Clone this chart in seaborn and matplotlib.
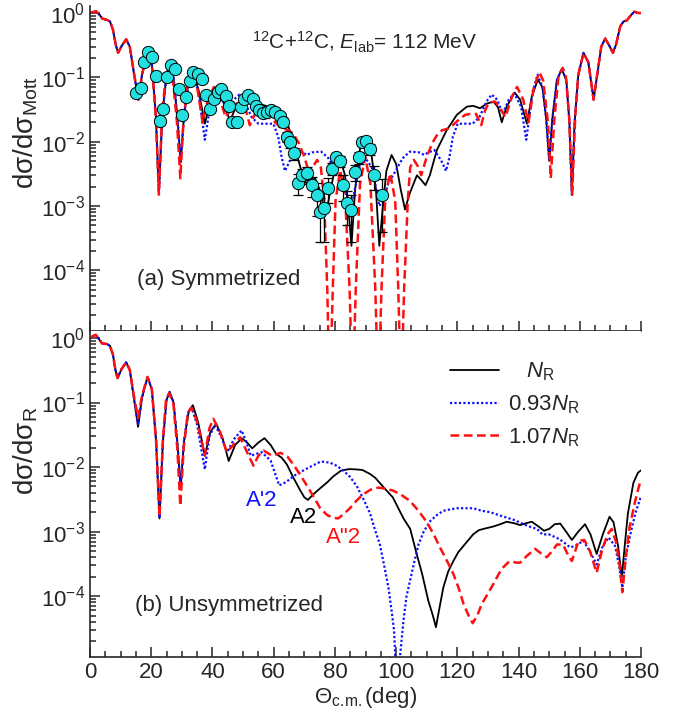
import numpy as np
import pandas as pd
import matplotlib
matplotlib.use('Agg')
import matplotlib.pyplot as plt
import seaborn as sns

# ---------------- data ----------------
# (a) symmetrized, N_R (black)
a_nr_th = [0.3, 1.0, 2.0, 3.0, 4.0, 5.5, 6.5, 7.5, 8.4, 9.2, 10.2, 11.8, 13.0, 14.3, 15.8, 17.0, 18.8, 20.2,
           21.5, 22.5, 23.6, 25.0, 26.0, 27.3, 28.6, 29.6, 30.7, 32.3, 33.8, 35.4, 37.5, 39.3, 41.5, 43.3,
           45.7, 47.5, 49.5, 51.2, 53.5, 56.6, 59.9, 62.1, 64.3, 66.4, 68.1, 69.7, 70.8, 72.5, 73.5, 75.0,
           76.5, 77.3, 78.5, 80.0, 81.7, 83.3, 84.5, 85.4, 86.6, 88.3, 89.9, 91.6, 93.4, 94.5, 95.5, 96.8,
           98.5, 100.0, 101.5, 102.9, 104.5, 106.8, 108.3, 109.6, 111.0, 113.3, 116.5, 119.8, 123.1, 125.2,
           127.4, 129.6, 131.8, 133.3, 134.5, 136.1, 138.7, 140.5, 142.7, 144.3, 146.3, 147.8, 149.0, 150.0,
           151.0, 152.5, 154.1, 155.6, 156.6, 157.4, 158.3, 159.5, 161.2, 162.8, 164.5, 165.8, 167.0, 168.3,
           169.8, 170.8, 171.8, 173.2, 174.3, 175.4, 176.5, 177.8, 179.0, 180.0]
a_nr_v = [1.0, 1.04, 1.06, 0.95, 0.82, 0.78, 0.74, 0.55, 0.32, 0.24, 0.30, 0.39, 0.30, 0.12, 0.045, 0.11, 0.25, 0.16,
          0.025, 0.0016, 0.025, 0.11, 0.145, 0.10, 0.022, 0.0048, 0.025, 0.09, 0.115, 0.065, 0.019, 0.042, 0.063, 0.045,
          0.021, 0.033, 0.044, 0.046, 0.041, 0.037, 0.033, 0.027, 0.020, 0.0105, 0.0051, 0.0027, 0.0022, 0.0028, 0.0027, 0.0018,
          0.0009, 0.00085, 0.0017, 0.0038, 0.0054, 0.0030, 0.0008, 0.00024, 0.0018, 0.0085, 0.0112, 0.0085, 0.0018, 0.00024, 0.0008, 0.0035,
          0.0062, 0.0045, 0.0018, 0.00088, 0.0016, 0.0030, 0.0025, 0.0021, 0.0030, 0.0074, 0.015, 0.026, 0.035, 0.036,
          0.033, 0.039, 0.042, 0.034, 0.020, 0.035, 0.058, 0.045, 0.019, 0.050, 0.092, 0.07, 0.023, 0.0050,
          0.022, 0.09, 0.135, 0.09, 0.02, 0.0015, 0.02, 0.11, 0.24, 0.17, 0.045, 0.12, 0.30, 0.40,
          0.30, 0.24, 0.32, 0.62, 0.74, 0.77, 0.90, 1.05, 1.0, 1.0]

# (a) symmetrized, 0.93 N_R (blue)
a_lo_th = [0.3, 1.0, 2.0, 3.0, 4.0, 5.5, 6.5, 7.5, 8.4, 9.2, 10.2, 11.8, 13.0, 14.3, 15.8, 17.0, 18.8, 20.2,
           21.5, 22.5, 23.6, 25.0, 26.0, 27.3, 28.6, 29.6, 30.7, 32.3, 33.6, 35.4, 37.5, 39.2, 41.4, 43.2,
           45.2, 47.0, 48.8, 50.5, 52.8, 55.0, 57.7, 59.9, 61.5, 62.6, 63.7, 65.3, 67.5, 69.5, 70.8, 72.5,
           75.5, 77.9, 79.5, 81.0, 82.5, 84.0, 85.5, 86.5, 88.0, 90.0, 92.0, 93.5, 94.5, 96.0, 97.5, 99.0,
           100.5, 102.1, 104.5, 107.5, 109.2, 110.5, 112.5, 114.7, 116.3, 117.4, 118.5, 120.1, 122.3, 125.0,
           127.2, 129.5, 131.2, 133.0, 134.8, 136.8, 138.6, 140.8, 142.5, 144.6, 146.2, 147.8, 149.0, 150.0,
           151.0, 152.5, 154.1, 155.6, 156.6, 157.4, 158.3, 159.5, 161.2, 162.8, 164.5, 165.8, 167.0, 168.3,
           169.8, 170.8, 171.8, 173.2, 174.3, 175.4, 176.5, 177.8, 179.0, 180.0]
a_lo_v = [1.0, 1.04, 1.06, 0.95, 0.82, 0.78, 0.74, 0.55, 0.32, 0.24, 0.30, 0.39, 0.30, 0.12, 0.045, 0.11, 0.25, 0.16,
          0.025, 0.0016, 0.025, 0.11, 0.145, 0.10, 0.022, 0.0048, 0.025, 0.09, 0.11, 0.06, 0.0107, 0.035, 0.056, 0.045,
          0.027, 0.045, 0.054, 0.042, 0.024, 0.019, 0.019, 0.019, 0.0118, 0.0057, 0.0035, 0.0051, 0.0074, 0.0068, 0.0062, 0.0068,
          0.0070, 0.0055, 0.0040, 0.0030, 0.0023, 0.0013, 0.0010, 0.0018, 0.0040, 0.0055, 0.0040, 0.0018, 0.0010, 0.0013, 0.0023, 0.0030,
          0.0040, 0.0055, 0.0070, 0.0068, 0.0062, 0.0068, 0.0074, 0.0051, 0.0035, 0.0057, 0.0118, 0.019, 0.019, 0.019,
          0.024, 0.042, 0.054, 0.045, 0.027, 0.045, 0.056, 0.035, 0.0107, 0.06, 0.11, 0.07, 0.023, 0.0050,
          0.022, 0.09, 0.135, 0.09, 0.02, 0.0015, 0.02, 0.11, 0.24, 0.17, 0.045, 0.12, 0.30, 0.40,
          0.30, 0.24, 0.32, 0.62, 0.74, 0.77, 0.90, 1.05, 1.0, 1.0]

# (a) symmetrized, 1.07 N_R (red)
a_hi_th = [0.3, 1.0, 2.0, 3.0, 4.0, 5.5, 6.5, 7.5, 8.4, 9.2, 10.2, 11.8, 13.0, 14.3, 15.8, 17.0, 18.8, 20.2,
           21.5, 22.5, 23.5, 24.8, 25.6, 27.0, 28.4, 29.5, 30.5, 32.0, 33.2, 35.0, 36.8, 38.5, 40.5, 42.2,
           44.3, 46.0, 47.7, 49.8, 51.0, 52.2, 53.9, 55.8, 57.5, 59.5, 61.5, 63.0, 65.0, 66.5, 68.2, 70.0,
           71.8, 73.0, 74.2, 75.4, 76.5, 77.5, 78.3, 79.3, 80.2, 81.7, 83.3, 84.8, 85.8, 86.8, 88.2, 89.9,
           91.6, 93.2, 94.2, 95.2, 96.5, 98.1, 99.7, 100.7, 101.6, 102.6, 103.8, 104.6, 105.8, 107.0, 108.2,
           110.0, 111.8, 113.5, 115.0, 117.0, 118.5, 120.5, 122.5, 124.2, 126.1, 127.8, 129.0, 130.2, 132.3,
           134.0, 135.7, 137.8, 139.5, 141.5, 143.2, 145.0, 146.8, 148.0, 149.6, 150.5, 151.6, 153.0, 154.4,
           155.4, 156.5, 157.5, 158.5, 159.5, 161.2, 162.8, 164.5, 165.8, 167.0, 168.3, 169.8, 170.8, 171.8,
           173.2, 174.3, 175.4, 176.5, 177.8, 179.0, 180.0]
a_hi_v = [1.0, 1.04, 1.06, 0.95, 0.82, 0.78, 0.74, 0.55, 0.32, 0.24, 0.30, 0.39, 0.30, 0.12, 0.045, 0.11, 0.25, 0.16,
          0.025, 0.0015, 0.025, 0.11, 0.14, 0.10, 0.02, 0.0027, 0.02, 0.09, 0.12, 0.07, 0.020, 0.045, 0.071, 0.05,
          0.024, 0.033, 0.039, 0.040, 0.03, 0.018, 0.027, 0.027, 0.026, 0.022, 0.018, 0.016, 0.015, 0.013, 0.0095, 0.0058,
          0.0030, 0.0042, 0.0052, 0.0040, 0.0012, 0.00005, 1e-6, 0.00005, 0.0012, 0.0036, 0.0015, 0.00005, 1e-6, 0.00005, 0.0022, 0.0058,
          0.0022, 0.00005, 1e-6, 0.00005, 0.0015, 0.0032, 0.0012, 0.00005, 1e-6, 0.00005, 0.0012, 0.0040, 0.0052, 0.0042, 0.0030,
          0.0058, 0.0095, 0.013, 0.015, 0.016, 0.018, 0.022, 0.026, 0.027, 0.027, 0.018, 0.03, 0.040, 0.042,
          0.033, 0.024, 0.05, 0.071, 0.045, 0.020, 0.07, 0.12, 0.09, 0.02, 0.0027, 0.02, 0.10, 0.14,
          0.11, 0.025, 0.0015, 0.025, 0.11, 0.24, 0.17, 0.045, 0.12, 0.30, 0.40, 0.30, 0.24, 0.32,
          0.62, 0.74, 0.77, 0.90, 1.05, 1.0, 1.0]

# (a) experimental points
exp_th = [15.0, 16.6, 17.6, 19.1, 20.3, 21.5, 22.9, 24.0, 25.1, 26.4, 27.8, 29.1, 30.2, 31.4, 32.7, 33.8, 35.2,
          36.6, 37.9, 39.3, 40.4, 41.7, 42.8, 44.3, 45.3, 46.5, 47.9, 49.2, 50.4, 51.7, 53.1, 54.1, 55.3, 56.6,
          57.7, 59.0, 60.5, 61.9, 63.0, 64.3, 65.4, 66.7, 68.0, 69.3, 71.0, 72.6, 74.0, 75.2, 76.5, 77.9, 79.0,
          80.4, 81.6, 82.8, 84.1, 85.2, 86.6, 87.9, 89.0, 90.2, 91.5, 92.8, 95.3]
exp_v = [0.058, 0.068, 0.17, 0.25, 0.21, 0.106, 0.021, 0.032, 0.10, 0.153, 0.134, 0.065, 0.026, 0.049, 0.089, 0.119, 0.114,
         0.095, 0.054, 0.032, 0.046, 0.059, 0.066, 0.051, 0.036, 0.020, 0.020, 0.034, 0.046, 0.054, 0.046, 0.036, 0.031, 0.028,
         0.029, 0.031, 0.029, 0.025, 0.020, 0.012, 0.010, 0.0066, 0.0023, 0.0030, 0.0033, 0.0021, 0.0015, 0.00081, 0.00093, 0.0019, 0.0038,
         0.0057, 0.0050, 0.0021, 0.0011, 0.00088, 0.0034, 0.0057, 0.0100, 0.0103, 0.0078, 0.0030, 0.0015]
exp_err = [0.004, 0.005, 0.01, 0.015, 0.015, 0.008, 0.002, 0.003, 0.007, 0.01, 0.01, 0.005, 0.002, 0.004, 0.006, 0.008, 0.008,
           0.007, 0.004, 0.003, 0.004, 0.005, 0.005, 0.004, 0.003, 0.002, 0.002, 0.003, 0.004, 0.004, 0.004, 0.003, 0.003, 0.002,
           0.002, 0.003, 0.003, 0.003, 0.003, 0.002, 0.002, 0.0015, 0.0008, 0.0008, 0.0008, 0.0007, 0.0008, 0.00053, 0.00065, 0.0008, 0.0008,
           0.0009, 0.0009, 0.0009, 0.0006, 0.0006, 0.001, 0.0012, 0.0015, 0.0015, 0.0015, 0.0012, 0.0011]

# (b) unsymmetrized, N_R (black)
b_nr_th = [0.3, 1.0, 1.9, 3.0, 4.0, 5.5, 6.5, 7.5, 8.3, 9.0, 10.3, 11.8, 13.0, 14.3, 15.7, 17.0, 18.8, 20.2, 21.6,
           22.7, 23.8, 25.0, 26.0, 27.3, 28.6, 29.6, 30.7, 32.3, 33.6, 35.3, 37.5, 39.3, 41.2, 43.3, 45.3, 47.4,
           49.6, 51.3, 53.0, 55.0, 57.0, 59.0, 60.8, 62.6, 64.3, 66.4, 68.5, 70.0, 71.2, 73.0, 75.2, 77.5, 79.5,
           82.0, 84.6, 87.0, 89.0, 91.5, 93.2, 96.0, 98.9, 102.4, 104.6, 106.7, 108.5, 110.5, 112.0, 113.0, 114.0,
           115.4, 117.0, 118.7, 120.3, 122.0, 125.2, 127.0, 128.5, 131.8, 134.0, 136.1, 138.5, 140.5, 142.5, 144.3,
           146.5, 148.3, 150.0, 151.8, 153.6, 155.5, 157.4, 159.5, 161.7, 163.5, 165.5, 167.5, 169.7, 171.0, 172.5,
           173.7, 174.8, 175.7, 177.5, 179.0, 180.0]
b_nr_v = [1.0, 1.08, 1.12, 0.95, 0.82, 0.81, 0.76, 0.55, 0.32, 0.24, 0.33, 0.42, 0.32, 0.12, 0.042, 0.12, 0.25, 0.16, 0.025,
          0.0016, 0.025, 0.11, 0.146, 0.10, 0.022, 0.0048, 0.025, 0.075, 0.091, 0.05, 0.015, 0.035, 0.047, 0.028, 0.0124, 0.022,
          0.028, 0.024, 0.0195, 0.024, 0.028, 0.022, 0.016, 0.014, 0.011, 0.0069, 0.0045, 0.0034, 0.0031, 0.0038, 0.0047, 0.0058, 0.0072,
          0.0088, 0.0093, 0.0092, 0.009, 0.0078, 0.0068, 0.0048, 0.0034, 0.0016, 0.0011, 0.00045, 0.00022, 0.000085, 0.00005, 0.000033, 0.00006,
          0.000135, 0.00024, 0.00035, 0.00048, 0.0006, 0.00091, 0.00105, 0.0011, 0.0012, 0.0013, 0.00142, 0.00135, 0.00126, 0.00135, 0.00142,
          0.0012, 0.00103, 0.0011, 0.0013, 0.00133, 0.001, 0.00074, 0.001, 0.0013, 0.0009, 0.00045, 0.0009, 0.0017, 0.0014, 0.0006,
          0.000195, 0.0007, 0.0019, 0.0057, 0.0082, 0.0089]

# (b) unsymmetrized, 0.93 N_R (blue)
b_lo_th = [0.3, 1.0, 1.9, 3.0, 4.0, 5.5, 6.5, 7.5, 8.3, 9.0, 10.3, 11.8, 13.0, 14.3, 15.7, 17.0, 18.8, 20.2, 21.6,
           22.7, 23.8, 25.0, 26.0, 27.3, 28.6, 29.6, 30.7, 32.0, 33.2, 35.0, 37.5, 39.0, 40.8, 42.8, 44.8, 47.0,
           49.5, 51.0, 52.5, 54.3, 56.1, 59.0, 61.8, 63.9, 67.5, 71.8, 75.4, 78.4, 80.5, 82.8, 85.0, 87.1, 89.3,
           91.5, 93.0, 94.7, 96.2, 97.5, 98.5, 99.3, 100.3, 101.3, 102.4, 103.4, 104.5, 106.0, 107.3, 109.0, 111.1,
           113.3, 115.4, 117.5, 119.8, 122.5, 125.2, 128.0, 130.7, 133.5, 136.1, 138.8, 141.6, 143.5, 146.0, 147.8,
           149.8, 151.2, 152.5, 154.5, 156.8, 158.5, 161.2, 163.2, 165.5, 167.5, 169.4, 171.5, 172.8, 173.9, 175.0,
           176.5, 178.1, 179.3, 180.0]
b_lo_v = [1.0, 1.08, 1.12, 0.95, 0.82, 0.81, 0.76, 0.55, 0.32, 0.24, 0.33, 0.42, 0.32, 0.12, 0.045, 0.12, 0.25, 0.16, 0.025,
          0.0016, 0.025, 0.11, 0.146, 0.10, 0.022, 0.0048, 0.025, 0.07, 0.083, 0.045, 0.0092, 0.03, 0.045, 0.03, 0.017, 0.027,
          0.037, 0.025, 0.015, 0.016, 0.017, 0.0126, 0.0052, 0.0058, 0.0078, 0.010, 0.0122, 0.0117, 0.0105, 0.0088, 0.0070, 0.0051, 0.0032,
          0.0019, 0.0011, 0.00063, 0.00028, 0.000135, 0.00006, 0.00003, 0.000003, 0.000012, 0.000042, 0.0001, 0.00017, 0.00035, 0.00063, 0.001, 0.00145,
          0.0018, 0.0021, 0.0022, 0.0023, 0.0023, 0.0023, 0.0021, 0.002, 0.0018, 0.00165, 0.0015, 0.0013, 0.0012, 0.0011, 0.0009,
          0.00091, 0.00085, 0.0008, 0.0007, 0.00057, 0.0006, 0.00072, 0.0005, 0.00031, 0.0006, 0.00081, 0.0006, 0.0003, 0.000135, 0.0004,
          0.0009, 0.0019, 0.0028, 0.0036]

# (b) unsymmetrized, 1.07 N_R (red)
b_hi_th = [0.3, 1.0, 1.9, 3.0, 4.0, 5.5, 6.5, 7.5, 8.3, 9.0, 10.3, 11.8, 13.0, 14.3, 15.7, 17.0, 18.8, 20.2, 21.6,
           22.7, 23.8, 24.8, 25.8, 27.2, 28.5, 29.5, 30.6, 32.0, 33.2, 35.0, 37.5, 39.0, 40.3, 42.5, 44.7, 46.8,
           49.0, 51.3, 53.4, 55.0, 56.7, 58.5, 59.5, 62.3, 64.5, 66.4, 68.5, 70.8, 73.0, 75.2, 77.5, 79.5, 81.1,
           83.0, 84.9, 87.0, 89.3, 91.8, 94.2, 96.8, 99.1, 101.7, 104.5, 107.3, 110.0, 112.2, 114.3, 116.5, 118.7,
           120.5, 122.0, 123.5, 125.0, 126.5, 128.0, 130.0, 131.8, 133.5, 135.0, 136.5, 137.8, 139.0, 140.5, 142.7,
           145.4, 147.3, 149.2, 151.0, 152.5, 154.5, 156.0, 157.4, 158.5, 159.6, 161.5, 163.3, 165.5, 167.2, 169.0,
           170.4, 171.8, 173.0, 173.9, 175.0, 176.3, 178.1, 179.2, 180.0]
b_hi_v = [1.0, 1.08, 1.12, 0.95, 0.82, 0.81, 0.76, 0.55, 0.32, 0.24, 0.33, 0.42, 0.32, 0.13, 0.058, 0.13, 0.25, 0.16, 0.025,
          0.0017, 0.025, 0.11, 0.14, 0.10, 0.02, 0.0025, 0.02, 0.07, 0.083, 0.05, 0.015, 0.04, 0.056, 0.035, 0.017, 0.022,
          0.029, 0.017, 0.0105, 0.015, 0.018, 0.016, 0.015, 0.0166, 0.0145, 0.011, 0.0078, 0.0052, 0.0035, 0.0023, 0.0018, 0.00163, 0.0016,
          0.0019, 0.0023, 0.003, 0.0038, 0.0045, 0.0048, 0.0046, 0.0043, 0.0037, 0.003, 0.0021, 0.0014, 0.00092, 0.00057, 0.00036, 0.00022,
          0.00013, 0.000076, 0.000052, 0.000038, 0.00005, 0.000076, 0.00011, 0.000155, 0.00022, 0.00028, 0.00033, 0.00035, 0.00033, 0.00033, 0.00042,
          0.00054, 0.00046, 0.0004, 0.0005, 0.00063, 0.00063, 0.00045, 0.00035, 0.0005, 0.00072, 0.00074, 0.0005, 0.00023, 0.0005, 0.0009,
          0.0011, 0.0007, 0.0003, 0.000115, 0.0004, 0.0012, 0.003, 0.0048, 0.0065]

labels = ['   $N_{\\mathrm{R}}$', '0.93$N_{\\mathrm{R}}$', '1.07$N_{\\mathrm{R}}$']

# ---------------- style ----------------
sns.set_theme(style='ticks')
plt.rcParams['font.family'] = ['Liberation Sans', 'DejaVu Sans']
plt.rcParams['mathtext.fontset'] = 'custom'
plt.rcParams['mathtext.rm'] = 'Liberation Sans'
plt.rcParams['mathtext.it'] = 'Liberation Sans:italic'
plt.rcParams['mathtext.bf'] = 'Liberation Sans:bold'
plt.rcParams['axes.linewidth'] = 1.2

fig = plt.figure(figsize=(6.84, 7.17), dpi=100)
ax1 = fig.add_axes([0.1316, 0.5388, 0.8056, 0.4533])
ax2 = fig.add_axes([0.1316, 0.0841, 0.8056, 0.4547])

black_kw = dict(color='black', lw=1.3, linestyle='-')
blue_kw = dict(color='#1010ff', lw=1.6, linestyle=(0, (1, 1)))
red_kw = dict(color='#ff1010', lw=1.8, linestyle=(0, (3.5, 1.8)))


def curve(ax, th, v, kw, label=None):
    sns.lineplot(x=th, y=v, ax=ax, sort=False, estimator=None, label=label, **kw)


# (a) symmetrized
curve(ax1, a_nr_th, a_nr_v, black_kw)
curve(ax1, a_lo_th, a_lo_v, blue_kw)
curve(ax1, a_hi_th, a_hi_v, red_kw)
ax1.errorbar(exp_th, exp_v, yerr=exp_err, fmt='none', ecolor='black', elinewidth=0.9,
             capsize=3.5, capthick=0.9, zorder=3)
sns.scatterplot(x=exp_th, y=exp_v, ax=ax1, color='#22e0e0', edgecolor='black', linewidth=0.7,
                s=78, zorder=4)

# (b) unsymmetrized
curve(ax2, b_nr_th, b_nr_v, black_kw, labels[0])
curve(ax2, b_lo_th, b_lo_v, blue_kw, labels[1])
curve(ax2, b_hi_th, b_hi_v, red_kw, labels[2])

for ax in (ax1, ax2):
    ax.set_yscale('log')
    ax.set_xlim(0, 180)
    ax.set_ylim(1.15e-5, 1.3)
    ax.set_xticks(np.arange(0, 181, 20))
    ax.set_xticks(np.arange(0, 181, 5), minor=True)
    ax.tick_params(which='both', direction='in', width=1.1, labelsize=16, top=False, right=False)
    ax.tick_params(which='major', length=7)
    ax.tick_params(which='minor', length=4)
    ax.spines['top'].set_visible(False)
    ax.spines['right'].set_visible(False)
    ax.set_xlabel('')

ax1.tick_params(axis='x', labelbottom=False)
ax1.set_ylabel('dσ/dσ$_{\\mathrm{Mott}}$', fontsize=20)
ax1.yaxis.set_label_coords(-0.09, 0.61)
ax2.set_ylabel('dσ/dσ$_{\\mathrm{R}}$', fontsize=20)
ax2.yaxis.set_label_coords(-0.09, 0.63)
ax2.set_xlabel('Θ$_{\\mathrm{c.\\!m.}}$(deg)', fontsize=16, labelpad=2)

ax1.text(0.294, 0.888, '$^{12}$C+$^{12}$C, $E_{\\mathrm{lab}}$= 112 MeV', transform=ax1.transAxes,
         fontsize=15, va='center', ha='left')
ax1.text(0.085, 0.156, '(a) Symmetrized', transform=ax1.transAxes, fontsize=16, va='center')
ax2.text(0.082, 0.156, '(b) Unsymmetrized', transform=ax2.transAxes, fontsize=16, va='center')

ax2.text(56.2, 3.0e-3, "A'2", color='#1010ff', fontsize=16, ha='center', va='center')
ax2.text(69.6, 1.66e-3, 'A2', color='black', fontsize=16, ha='center', va='center')
ax2.text(82.7, 8.1e-4, 'A"2', color='#ff1010', fontsize=16, ha='center', va='center')

leg = ax2.legend(loc='upper left', bbox_to_anchor=(0.638, 0.935), frameon=False, fontsize=16,
                 handlelength=2.2, handletextpad=0.4, labelspacing=0.45, borderaxespad=0)

fig.savefig('out.png', dpi=100)
